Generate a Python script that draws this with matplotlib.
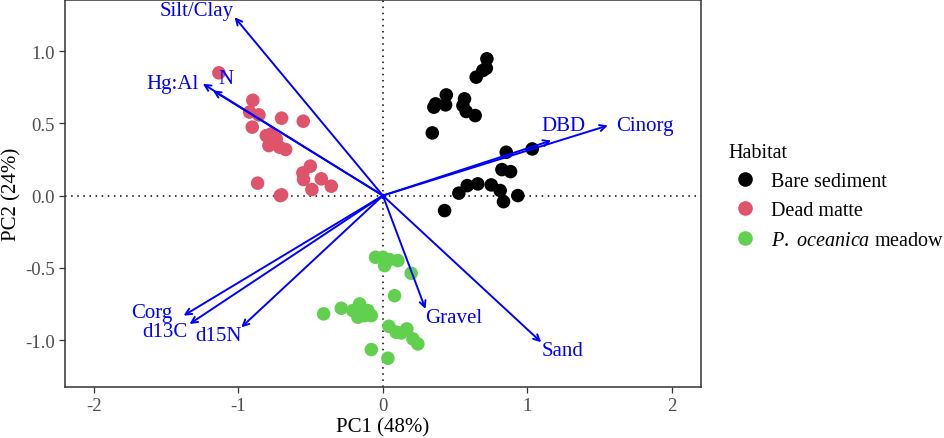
import numpy as np
import matplotlib
matplotlib.use('Agg')
from matplotlib import pyplot as plt
from matplotlib.lines import Line2D

plt.rcParams['font.family'] = ['Liberation Serif', 'DejaVu Serif']
plt.rcParams['mathtext.fontset'] = 'custom'
plt.rcParams['mathtext.rm'] = 'Liberation Serif'
plt.rcParams['mathtext.it'] = 'Liberation Serif:italic'

# PCA scores per habitat
bare_x = [0.72, 0.716, 0.692, 0.646, 0.439, 0.365, 0.353, 0.434, 0.565, 0.554,
          0.577, 0.639, 0.342, 0.854, 1.034, 0.824, 0.884, 0.584, 0.657, 0.526,
          0.750, 0.812, 0.835, 0.934, 0.427]
bare_y = [0.947, 0.882, 0.866, 0.82, 0.697, 0.635, 0.612, 0.628, 0.67, 0.623,
          0.582, 0.554, 0.434, 0.30, 0.323, 0.18, 0.166, 0.069, 0.081, 0.017,
          0.074, 0.035, -0.042, 0.0, -0.104]

dead_x = [-1.135, -0.90, -0.922, -0.858, -0.904, -0.701, -0.551, -0.772, -0.738,
          -0.789, -0.715, -0.673, -0.756, -0.807, -0.502, -0.554, -0.549, -0.426,
          -0.357, -0.491, -0.867, -0.701, -0.71]
dead_y = [0.85, 0.66, 0.578, 0.559, 0.474, 0.536, 0.515, 0.427, 0.393, 0.346,
          0.335, 0.319, 0.37, 0.415, 0.204, 0.157, 0.111, 0.116, 0.065, 0.042,
          0.086, 0.005, 0.0]

meadow_x = [-0.051, 0.0, 0.046, 0.104, 0.012, 0.196, 0.081, -0.41, -0.288, -0.208,
            -0.161, -0.173, -0.104, -0.08, -0.127, 0.042, 0.092, 0.166, 0.127,
            0.208, 0.242, -0.08, 0.035]
meadow_y = [-0.427, -0.427, -0.443, -0.450, -0.485, -0.538, -0.693, -0.819, -0.78,
            -0.796, -0.75, -0.842, -0.796, -0.831, -0.831, -0.905, -0.946, -0.923,
            -0.951, -0.992, -1.027, -1.066, -1.126]

# variable loadings (arrow tips)
variables = ['Silt/Clay', 'Hg:Al', 'N', 'DBD', 'Cinorg', 'Corg', 'd13C', 'd15N',
             'Gravel', 'Sand']
load_x = [-1.026, -1.246, -1.176, 1.165, 1.557, -1.379, -1.338, -0.98, 0.295, 1.096]
load_y = [1.235, 0.774, 0.727, 0.381, 0.485, -0.831, -0.889, -0.912, -0.785, -1.015]

# label placement (pixel offsets from tip, alignment)
label_style = {
    'Silt/Clay': (-1, 7, 'right'),
    'Hg:Al': (-4, 0, 'right'),
    'N': (5, 12, 'left'),
    'DBD': (-10, 15, 'left'),
    'Cinorg': (8, 0, 'left'),
    'Corg': (-11, 3, 'right'),
    'd13C': (-2, -8, 'right'),
    'd15N': (0, -8, 'right'),
    'Gravel': (0, -9, 'left'),
    'Sand': (0, -8, 'left'),
}

groups = ['Bare sediment', 'Dead matte', '$\\it{P.}$ $\\it{oceanica}$ meadow']
colors = ['black', '#DF536B', '#61D04F']


def main():
    fig = plt.figure(figsize=(9.45, 4.39), dpi=100)
    ax = fig.add_axes([0.0688, 0.1169, 0.6727, 0.8811])

    ax.axhline(0, color='black', linestyle=(0, (1, 3)), lw=1.1, zorder=1)
    ax.axvline(0, color='black', linestyle=(0, (1, 3)), lw=1.1, zorder=1)

    data = [(bare_x, bare_y), (dead_x, dead_y), (meadow_x, meadow_y)]
    for (xs, ys), c in zip(data, colors):
        ax.scatter(xs, ys, s=95, color=c, edgecolors='none', zorder=2)

    for name, lx, ly in zip(variables, load_x, load_y):
        ax.annotate('', xy=(lx, ly), xytext=(0, 0),
                    arrowprops=dict(arrowstyle='->', color='blue', lw=1.4,
                                    shrinkA=0, shrinkB=0, mutation_scale=11),
                    zorder=3)
        dx, dy, ha = label_style[name]
        ax.annotate(name, xy=(lx, ly), xytext=(dx, dy),
                    textcoords='offset pixels', ha=ha, va='center',
                    color='blue', fontsize=15, zorder=4)
    ax.plot(0, 0, 'o', color='blue', ms=3, zorder=3)

    ax.set_xlim(-2.2, 2.2)
    ax.set_ylim(-1.323, 1.355)
    ax.set_xticks([-2, -1, 0, 1, 2])
    ax.set_xticklabels(['-2', '-1', '0', '1', '2'])
    ax.set_yticks([-1.0, -0.5, 0.0, 0.5, 1.0])
    ax.set_yticklabels(['-1.0', '-0.5', '0.0', '0.5', '1.0'])
    ax.tick_params(labelsize=13.5, colors='#333333', length=4, width=0.9,
                   labelcolor='#4d4d4d')
    for sp in ax.spines.values():
        sp.set_color('#333333')
        sp.set_linewidth(1.1)

    ax.set_xlabel('PC1 (48%)', fontsize=15, labelpad=2)
    ax.set_ylabel('PC2 (24%)', fontsize=15, va='center')
    ax.yaxis.set_label_coords(-0.084, 0.5)

    handles = [Line2D([], [], marker='o', linestyle='none', color=c, ms=9.5)
               for c in colors]
    leg = fig.legend(handles, groups, title='Habitat', loc='upper left',
                     bbox_to_anchor=(0.752, 0.713), frameon=False,
                     fontsize=14.5, title_fontsize=14.5, handletextpad=0.5,
                     labelspacing=0.5, handlelength=1.6)
    leg._legend_box.align = 'left'

    plt.savefig('out.png', dpi=100)


if __name__ == "__main__":
    main()
